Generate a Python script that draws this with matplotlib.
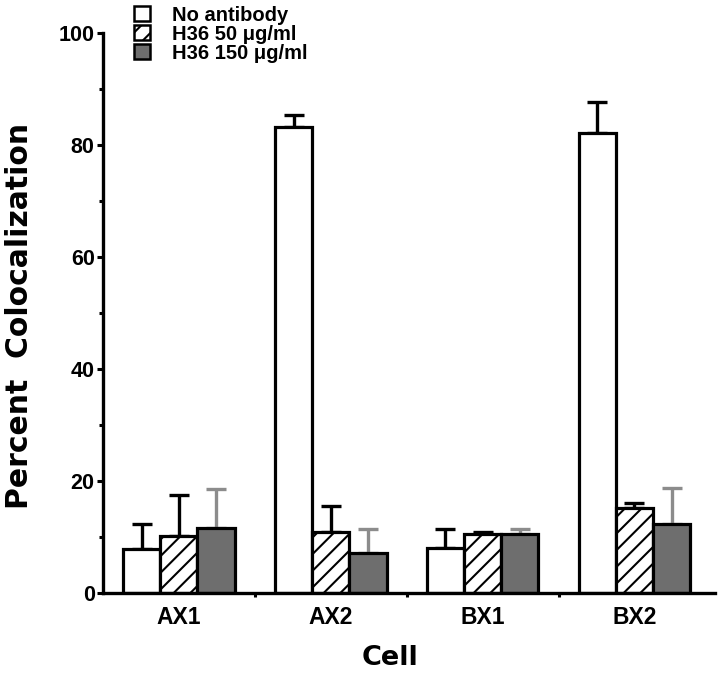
import matplotlib
matplotlib.use("Agg")
import matplotlib.pyplot as plt
import numpy as np
from matplotlib.patches import Patch

cells = ["AX1", "AX2", "BX1", "BX2"]
series = ["No antibody", "H36 50 \u03bcg/ml", "H36 150 \u03bcg/ml"]
no_ab = [7.9, 83.3, 8.0, 82.2]
no_ab_err = [4.4, 2.0, 3.4, 5.5]
h50 = [10.2, 10.9, 10.5, 15.2]
h50_err = [7.3, 4.7, 0.4, 0.9]
h150 = [11.6, 7.2, 10.5, 12.3]
h150_err = [7.0, 4.2, 0.9, 6.5]
y_ticks = [0, 20, 40, 60, 80, 100]

plt.rcParams['font.family'] = ['Liberation Sans', 'DejaVu Sans']
plt.rcParams['font.weight'] = 'bold'
plt.rcParams['hatch.linewidth'] = 1.5

fig = plt.figure(figsize=(7.2, 6.74), dpi=100)
ax = fig.add_axes([0.143, 0.120, 0.850, 0.831])

x = np.arange(len(cells))
w = 0.245
vals = [no_ab, h50, h150]
errs = [no_ab_err, h50_err, h150_err]
faces = ["white", "white", "#6e6e6e"]
hatches = [None, "//", None]
ecolors = ["black", "black", "#8c8c8c"]
offs = [-w, 0, w]

for v, e, fc, h, ec, o in zip(vals, errs, faces, hatches, ecolors, offs):
    ax.errorbar(x + o, v, yerr=[np.zeros(len(e)), e], fmt='none',
                ecolor=ec, elinewidth=2.4, capsize=7.5, capthick=2.4, zorder=1)
    ax.bar(x + o, v, width=w, color=fc, edgecolor="black", linewidth=2.3,
           hatch=h, zorder=2)

ax.set_xlim(-0.5, 3.53)
ax.set_ylim(0, 100)
ax.spines['top'].set_visible(False)
ax.spines['right'].set_visible(False)
ax.spines['left'].set_linewidth(2.4)
ax.spines['bottom'].set_linewidth(2.4)

ax.set_yticks(y_ticks)
ax.set_yticks([10, 30, 50, 70, 90], minor=True)
ax.tick_params(axis='y', which='major', length=4, width=2.2, pad=2, labelsize=15.5)
ax.tick_params(axis='y', which='minor', length=3, width=2.2)
ax.set_xticks(x)
ax.set_xticklabels(cells)
ax.set_xticks([0.5, 1.5, 2.5], minor=True)
ax.tick_params(axis='x', which='major', length=0, pad=9, labelsize=16.5)
ax.tick_params(axis='x', which='minor', length=3, width=2.2)
for lab in ax.get_xticklabels() + ax.get_yticklabels():
    lab.set_fontweight('bold')

ax.set_ylabel("Percent  Colocalization", fontsize=21.5, fontweight='bold',
              family=['DejaVu Sans'], va='center')
ax.yaxis.set_label_coords(-0.136, 0.494)
ax.set_xlabel("Cell", fontsize=19.5, fontweight='bold', family=['DejaVu Sans'],
              va='center')
ax.xaxis.set_label_coords(0.469, -0.116)

handles = [Patch(facecolor=fc, edgecolor='black', hatch=h, linewidth=1.8)
           for fc, h in zip(faces, hatches)]
fig.legend(handles, series, loc='upper left', bbox_to_anchor=(0.168, 1.011),
           frameon=False, handlelength=0.8, handleheight=0.8,
           handletextpad=1.1, labelspacing=0.0, borderpad=0.15,
           prop={'size': 14.5, 'weight': 'bold'})

fig.savefig("out.png", dpi=100)
